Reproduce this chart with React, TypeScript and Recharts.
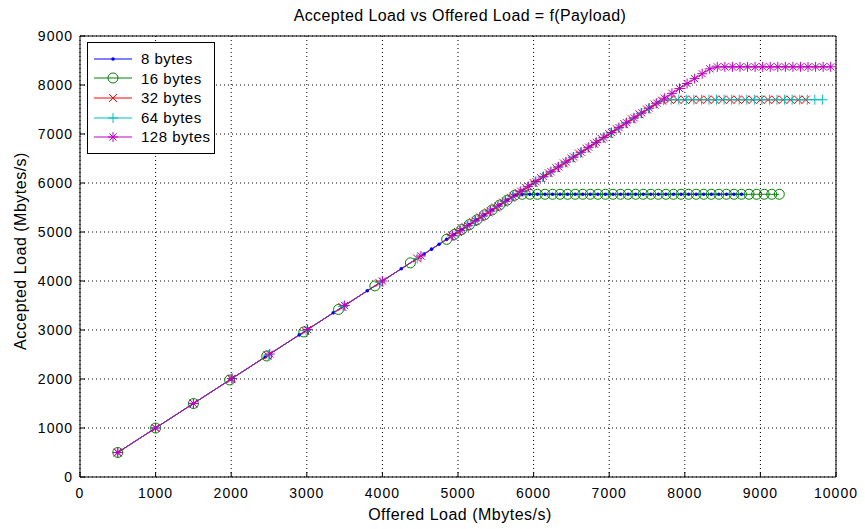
import { LineChart, Line, XAxis, YAxis, CartesianGrid, Legend } from 'recharts';

const FONT = '"Liberation Sans", Arial, Helvetica, sans-serif';

const xTicks = [0, 1000, 2000, 3000, 4000, 5000, 6000, 7000, 8000, 9000, 10000];
const yTicks = [0, 1000, 2000, 3000, 4000, 5000, 6000, 7000, 8000, 9000];

// 8 bytes
const offered8 = [
  500, 1000, 1500, 2000, 2450, 2900, 3350, 3800, 4250, 4550, 4650, 4750, 4850, 4950, 5050, 5150, 5250,
  5350, 5450, 5550, 5650, 5750, 5850, 5950, 6050, 6150, 6250, 6350, 6450, 6550, 6650, 6750, 6850, 6950,
  7050, 7150, 7250, 7350, 7450, 7550, 7650, 7750, 7850, 7950, 8050, 8150, 8250, 8350, 8450, 8550, 8650, 8750,
];
const accepted8 = [
  500, 1000, 1500, 2000, 2450, 2900, 3350, 3800, 4250, 4550, 4650, 4750, 4850, 4950, 5050, 5150, 5250,
  5350, 5450, 5550, 5650, 5750,
  5770, 5770, 5770, 5770, 5770, 5770, 5770, 5770, 5770, 5770,
  5770, 5770, 5770, 5770, 5770, 5770, 5770, 5770, 5770, 5770,
  5770, 5770, 5770, 5770, 5770, 5770, 5770, 5770, 5770, 5770,
];

// 16 bytes
const offered16 = [
  500, 1000, 1500, 1980, 2470, 2960, 3420, 3900, 4370, 4850, 4950, 5050, 5150, 5250, 5350, 5450, 5550,
  5650, 5750, 5850, 5950, 6050, 6150, 6250, 6350, 6450, 6550, 6650, 6750, 6850, 6950, 7050, 7150, 7250,
  7350, 7450, 7550, 7650, 7750, 7850, 7950, 8050, 8150, 8250, 8350, 8450, 8550, 8650, 8750, 8850, 8950,
  9050, 9150, 9250,
];
const accepted16 = [
  500, 1000, 1500, 1980, 2470, 2960, 3420, 3900, 4370, 4850, 4950, 5050, 5150, 5250, 5350, 5450, 5550,
  5650, 5750,
  5770, 5770, 5770, 5770, 5770, 5770, 5770, 5770, 5770, 5770,
  5770, 5770, 5770, 5770, 5770, 5770, 5770, 5770, 5770, 5770,
  5770, 5770, 5770, 5770, 5770, 5770, 5770, 5770, 5770, 5770,
  5770, 5770, 5770, 5770, 5770,
];

// 32 bytes
const offered32 = [
  500, 1000, 1500, 2000, 2480, 2980, 3470, 3960, 4460, 4900, 5000, 5100, 5200, 5300, 5400, 5500, 5600,
  5700, 5800, 5900, 6000, 6100, 6200, 6300, 6400, 6500, 6600, 6700, 6800, 6900, 7000, 7100, 7200, 7300,
  7400, 7500, 7600, 7700, 7800, 7900, 8000, 8100, 8200, 8300, 8400, 8500, 8600, 8700, 8800, 8900, 9000,
  9100, 9200, 9300, 9400, 9500, 9600,
];
const accepted32 = [
  500, 1000, 1500, 2000, 2480, 2980, 3470, 3960, 4460, 4900, 5000, 5100, 5200, 5300, 5400, 5500, 5600,
  5700, 5800, 5900, 6000, 6100, 6200, 6300, 6400, 6500, 6600, 6700, 6800, 6900, 7000, 7100, 7200, 7300,
  7400, 7500, 7600, 7680,
  7700, 7700, 7700, 7700, 7700, 7700, 7700, 7700, 7700, 7700,
  7700, 7700, 7700, 7700, 7700, 7700, 7700, 7700, 7700,
];

// 64 bytes
const offered64 = [
  500, 1000, 1500, 2010, 2490, 2990, 3480, 3970, 4460, 4920, 5020, 5120, 5220, 5320, 5420, 5520, 5620,
  5720, 5820, 5920, 6020, 6120, 6220, 6320, 6420, 6520, 6620, 6720, 6820, 6920, 7020, 7120, 7220, 7320,
  7420, 7520, 7620, 7720, 7820, 7920, 8020, 8120, 8220, 8320, 8420, 8520, 8620, 8720, 8820, 8920, 9020,
  9120, 9220, 9320, 9420, 9520, 9620, 9720, 9820,
];
const accepted64 = [
  500, 1000, 1500, 2010, 2490, 2990, 3480, 3970, 4460, 4920, 5020, 5120, 5220, 5320, 5420, 5520, 5620,
  5720, 5820, 5920, 6020, 6120, 6220, 6320, 6420, 6520, 6620, 6720, 6820, 6920, 7020, 7120, 7220, 7320,
  7420, 7520, 7620, 7690,
  7700, 7700, 7700, 7700, 7700, 7700, 7700, 7700, 7700, 7700,
  7700, 7700, 7700, 7700, 7700, 7700, 7700, 7700, 7700, 7700, 7700,
];

// 128 bytes
const offered128 = [
  500, 1000, 1500, 2010, 2510, 3010, 3500, 4000, 4510, 4930, 5030, 5130, 5230, 5330, 5430, 5530, 5630,
  5730, 5830, 5930, 6030, 6130, 6230, 6330, 6430, 6530, 6630, 6730, 6830, 6930, 7030, 7130, 7230, 7330,
  7430, 7530, 7630, 7730, 7830, 7930, 8030, 8130, 8230, 8330, 8430, 8530, 8630, 8730, 8830, 8930, 9030,
  9130, 9230, 9330, 9430, 9530, 9630, 9730, 9830, 9930,
];
const accepted128 = [
  500, 1000, 1500, 2010, 2510, 3010, 3500, 4000, 4510, 4930, 5030, 5130, 5230, 5330, 5430, 5530, 5630,
  5730, 5830, 5930, 6030, 6130, 6230, 6330, 6430, 6530, 6630, 6730, 6830, 6930, 7030, 7130, 7230, 7330,
  7430, 7530, 7630, 7730, 7830, 7930, 8030, 8130, 8230, 8330,
  8370, 8370, 8370, 8370, 8370, 8370, 8370, 8370, 8370, 8370,
  8370, 8370, 8370, 8370, 8370, 8370,
];

const toRows = (offered: number[], accepted: number[]) =>
  offered.map((x, i) => ({ offered: x, accepted: accepted[i] }));

type Shape = 'dot' | 'circle' | 'x' | 'plus' | 'star';

const series: { name: string; color: string; shape: Shape; rows: { offered: number; accepted: number }[] }[] = [
  { name: '8 bytes', color: '#0000ff', shape: 'dot', rows: toRows(offered8, accepted8) },
  { name: '16 bytes', color: '#008000', shape: 'circle', rows: toRows(offered16, accepted16) },
  { name: '32 bytes', color: '#ff0000', shape: 'x', rows: toRows(offered32, accepted32) },
  { name: '64 bytes', color: '#00bfbf', shape: 'plus', rows: toRows(offered64, accepted64) },
  { name: '128 bytes', color: '#bf00bf', shape: 'star', rows: toRows(offered128, accepted128) },
];

function Marker({ shape, cx, cy, color }: { shape: Shape; cx: number; cy: number; color: string }) {
  if (shape === 'dot') return <circle cx={cx} cy={cy} r={1.8} fill={color} stroke="none" />;
  if (shape === 'circle') return <circle cx={cx} cy={cy} r={5} fill="none" stroke={color} strokeWidth={1} />;
  const s = 4;
  const xPath = `M${cx - s},${cy - s}L${cx + s},${cy + s}M${cx - s},${cy + s}L${cx + s},${cy - s}`;
  const p = 5;
  const plusPath = `M${cx - p},${cy}L${cx + p},${cy}M${cx},${cy - p}L${cx},${cy + p}`;
  if (shape === 'x') return <path d={xPath} stroke={color} strokeWidth={1} fill="none" />;
  if (shape === 'plus') return <path d={plusPath} stroke={color} strokeWidth={1} fill="none" />;
  const q = 3.6;
  const starX = `M${cx - q},${cy - q}L${cx + q},${cy + q}M${cx - q},${cy + q}L${cx + q},${cy - q}`;
  return <path d={plusPath + starX} stroke={color} strokeWidth={1} fill="none" />;
}

function LegendBox() {
  return (
    <div
      style={{
        border: '1px solid #000',
        background: '#fff',
        padding: '6px 6px 6px 6px',
        fontFamily: FONT,
        fontSize: 15,
        letterSpacing: 0.5,
        lineHeight: '19.6px',
        width: 114,
      }}
    >
      {series.map((s) => (
        <div key={s.name} style={{ display: 'flex', alignItems: 'center', height: 19.6 }}>
          <svg width={40} height={16} style={{ marginRight: 7, flexShrink: 0 }}>
            <line x1={0} y1={8} x2={38} y2={8} stroke={s.color} strokeWidth={1} />
            <Marker shape={s.shape} cx={19} cy={8} color={s.color} />
          </svg>
          <span style={{ whiteSpace: 'nowrap' }}>{s.name}</span>
        </div>
      ))}
    </div>
  );
}

const tickStyle = { fill: '#000', fontSize: 14, fontFamily: FONT, letterSpacing: 1 };

export default function App() {
  return (
    <div style={{ position: 'absolute', left: 0, top: 0, width: 865, height: 529, background: '#fff', fontFamily: FONT }}>
      <div style={{ position: 'absolute', left: 60, width: 800, top: 7, textAlign: 'center', fontSize: 16, letterSpacing: 0.4 }}>
        Accepted Load vs Offered Load = f(Payload)
      </div>
      <div style={{ position: 'absolute', left: 60, width: 800, top: 506, textAlign: 'center', fontSize: 16, letterSpacing: 0.5 }}>
        Offered Load (Mbytes/s)
      </div>
      <div
        style={{
          position: 'absolute',
          left: 21,
          top: 251,
          transform: 'translate(-50%, -50%) rotate(-90deg)',
          whiteSpace: 'nowrap',
          fontSize: 16,
          letterSpacing: 0.5,
        }}
      >
        Accepted Load (Mbytes/s)
      </div>
      <LineChart width={865} height={529} margin={{ top: 35, right: 28, bottom: 22, left: 20 }}>
        <CartesianGrid stroke="#000" strokeDasharray="1 3" />
        <XAxis
          dataKey="offered"
          type="number"
          domain={[0, 10000]}
          ticks={xTicks}
          height={30}
          tickSize={-5}
          tickMargin={16}
          axisLine={{ stroke: '#000' }}
          tickLine={{ stroke: '#000' }}
          tick={tickStyle}
          allowDataOverflow
        />
        <XAxis
          xAxisId="top"
          orientation="top"
          type="number"
          domain={[0, 10000]}
          ticks={xTicks}
          height={1}
          tickSize={-5}
          tick={false}
          axisLine={{ stroke: '#000' }}
          tickLine={{ stroke: '#000' }}
        />
        <YAxis
          type="number"
          domain={[0, 9000]}
          ticks={yTicks}
          width={60}
          tickSize={-5}
          tickMargin={12}
          axisLine={{ stroke: '#000' }}
          tickLine={{ stroke: '#000' }}
          tick={tickStyle}
          allowDataOverflow
        />
        <YAxis
          yAxisId="right"
          orientation="right"
          type="number"
          domain={[0, 9000]}
          ticks={yTicks}
          width={1}
          tickSize={-5}
          tick={false}
          axisLine={{ stroke: '#000' }}
          tickLine={{ stroke: '#000' }}
        />
        <Legend
          layout="vertical"
          align="center"
          verticalAlign="middle"
          content={() => <LegendBox />}
          wrapperStyle={{ left: 87, top: 42, width: 'auto', height: 'auto' }}
        />
        {series.map((s) => (
          <Line
            key={s.name}
            data={s.rows}
            dataKey="accepted"
            name={s.name}
            stroke={s.color}
            strokeWidth={1}
            isAnimationActive={false}
            dot={(props: any) => (
              <Marker key={`${s.name}-${props.index}`} shape={s.shape} cx={props.cx} cy={props.cy} color={s.color} />
            )}
            activeDot={false}
          />
        ))}
      </LineChart>
    </div>
  );
}
